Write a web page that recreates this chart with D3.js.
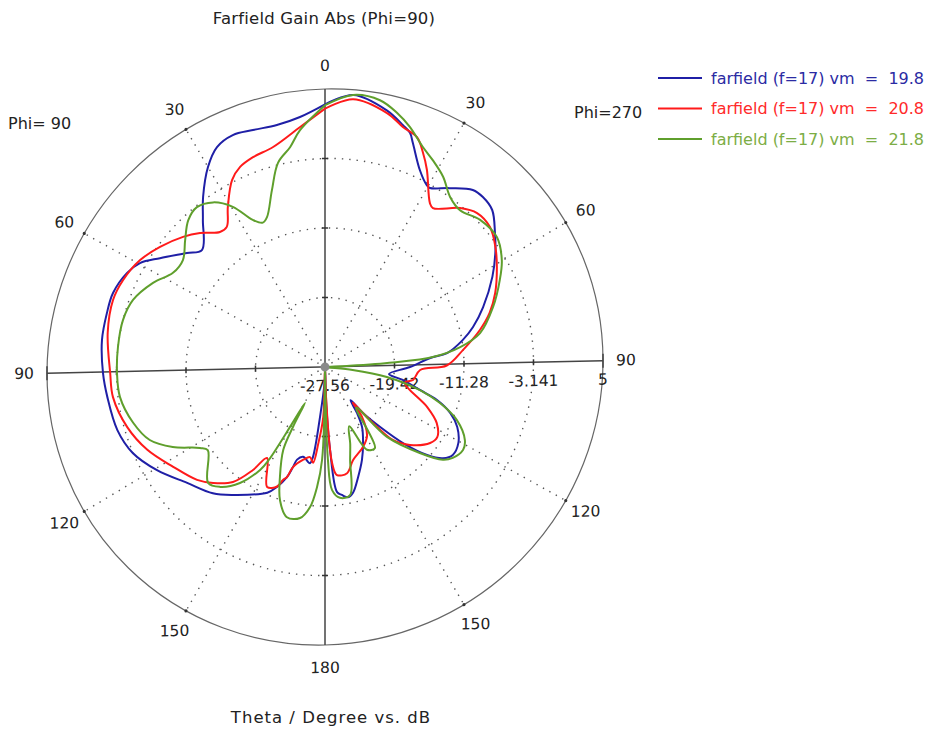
<!DOCTYPE html>
<html>
<head>
<meta charset="utf-8">
<script src="https://cdn.jsdelivr.net/npm/d3@7"></script>
<style>
  html, body { margin: 0; padding: 0; background: #fff; }
  svg { display: block; font-family: "DejaVu Sans", Verdana, sans-serif; }
  text { white-space: pre; }
</style>
</head>
<body>
<svg id="chart" width="935" height="733"></svg>
<script>
// Radial scale: centre and outer ring values (dB)
const radialTicks = [-27.56, -19.42, -11.28, -3.141, 5];
const radialTickLabels = ["-27.56", "-19.42", "-11.28", "-3.141", "5"];

// Angle labels; display angle runs clockwise from top (right half Phi=270, left half Phi=90)
const angleTicks = [0, 30, 60, 90, 120, 150, 180, 210, 240, 270, 300, 330];
const angleLabels = ["0", "30", "60", "90", "120", "150", "180", "150", "120", "90", "60", "30"];

const seriesNames = ["farfield (f=17) vm  =  19.8", "farfield (f=17) vm  =  20.8", "farfield (f=17) vm  =  21.8"];
const seriesColors = ["#1f1fa6", "#ff1a1a", "#5f9f2c"];
const legendTextColors = ["#2b2ba3", "#ff2a2a", "#7cad45"];

// vm = 19.8
const blueAngle = [0, 6, 13.6, 18, 20.1, 21.6, 26, 29.6, 30.7, 35.3, 40.4, 43.5, 47.5, 52.6, 57.1, 62.7, 70.4, 76.1, 80.2, 84.8, 86.4, 91.3, 97.5, 100.7, 104.9, 107.6, 111.3, 115.5, 120.7, 125.4, 128.5, 131.5, 134.9, 138, 141, 143, 145.6, 148.7, 153.7, 158.5, 163.4, 167.5, 170, 172.5, 174.5, 176.5, 178, 180, 181, 185.7, 187.6, 188.9, 193.8, 196.9, 197.9, 199.2, 202, 204.9, 216.2, 222.2, 230.7, 239.4, 247, 254.3, 263.4, 269.7, 278.2, 285.1, 290.4, 296.5, 300.3, 304.3, 310.3, 314.2, 320.8, 324.8, 330, 334.1, 338.5, 343.2, 348.8, 354.3, 360];
const blueGain = [3.2, 4.4, 3.2, 2.0, 1.4, 0.4, -2.2, -3.4, -3.5, -2.3, -0.85, -0.7, -1.0, -2.5, -3.8, -5.5, -7.9, -9.7, -11.2, -13.2, -15.2, -17.6, -20.0, -18.3, -16.0, -13.8, -11.8, -10.4, -9.4, -9.2, -9.9, -11.6, -14.6, -17.9, -20.5, -22.6, -20.9, -19.2, -17.5, -15.75, -14.0, -12.4, -12.0, -12.4, -12.8, -17.8, -23, -28, -26, -21.7, -17.0, -16.2, -16.8, -16.3, -15.3, -14.0, -12.55, -11.5, -9.3, -8.0, -6.7, -4.7, -3.1, -2.3, -1.9, -1.56, -1.17, -1.1, -1.07, -1.66, -2.46, -4.16, -6.36, -7.45, -4.93, -2.79, -0.15, 1.4, 1.9, 1.63, 1.46, 1.93, 3.2];

// vm = 20.8
const redAngle = [0, 6, 13.8, 18.1, 22, 24.8, 27.6, 33, 34.6, 40.9, 45.3, 50.4, 55.7, 60.8, 67.6, 73, 77.8, 84.2, 90.6, 93.1, 99.7, 102.5, 112.5, 117.6, 122.9, 126.7, 133.2, 137.6, 139.6, 141, 142.6, 143.9, 149, 154.8, 163.3, 168.3, 173.7, 175.8, 178, 180, 182, 185, 187.1, 189.5, 193, 197.9, 199.2, 200.6, 202, 206, 212.9, 215.4, 219.2, 224.6, 229.3, 237.6, 246.1, 254.3, 263.2, 269.7, 280.2, 288.7, 294.4, 301, 306.9, 313.2, 317.6, 322.6, 325.4, 329.1, 333.8, 337.2, 341.2, 346.8, 354.1, 360];
const redGain = [2.7, 3.9, 2.9, 1.8, 1.2, -0.2, -1.8, -5.0, -5.3, -3.4, -2.5, -2.5, -3.4, -4.5, -6.0, -7.4, -9.0, -11.3, -13.3, -16.4, -17.1, -18.0, -14.6, -12.8, -11.9, -12.2, -13.9, -15.7, -18.2, -20.5, -22.2, -20.2, -18.0, -17.1, -16.1, -14.8, -14.8, -16.3, -24, -28, -21.7, -18.6, -16.3, -16.9, -16.5, -15.3, -14.0, -13.55, -12.6, -12.1, -15.05, -13.0, -10.5, -8.9, -7.8, -6.5, -4.8, -3.5, -2.55, -2.4, -1.7, -1.35, -1.6, -2.3, -3.4, -4.75, -5.85, -7.3, -7.3, -5.4, -2.9, -1.9, -1.4, -0.95, 0.77, 2.7];

// vm = 21.8
const greenAngle = [0, 5.9, 11.7, 15.9, 19.6, 24.2, 27.8, 32.2, 36.8, 41.3, 47.2, 53.8, 59.8, 64.6, 71.5, 78.9, 82.9, 86, 87.5, 88.5, 90, 97.3, 100.4, 104.9, 108.6, 113, 118.6, 122, 126.3, 129, 132.9, 139, 143, 148.7, 153.4, 158, 162, 165, 169, 173.5, 176.7, 178.2, 179.7, 180.3, 181.8, 183.8, 186.1, 189.4, 194.3, 198.8, 202.4, 207, 208.4, 209.4, 210.5, 211.5, 212.6, 216.7, 221.8, 225.9, 235.5, 238, 243.3, 248.5, 255, 263, 269.6, 276.8, 284.3, 290.4, 297.1, 302.7, 307.8, 312.9, 317.6, 321.8, 326.2, 330.4, 334.1, 336.9, 339, 343.4, 347.1, 351, 354, 360];
const greenGain = [3.1, 4.4, 4.2, 3.2, 2.05, 0.4, -0.5, -1.6, -3.1, -3.6, -2.8, -2.6, -3.6, -4.9, -6.8, -9.05, -11.6, -14.9, -19.6, -25, -30, -24.3, -20.2, -16.05, -13.35, -10.8, -8.9, -8.5, -9.0, -9.8, -12.4, -16.5, -21.5, -16.3, -16.6, -20, -18, -16.2, -12.2, -12.1, -13.1, -16.7, -30, -30, -16.7, -13.5, -11.1, -9.7, -9.5, -11.2, -13.7, -16.8, -19.7, -22.8, -20, -15, -13.45, -10.9, -9.1, -8.5, -10.9, -10.3, -7.6, -5.5, -4.3, -3.36, -3.2, -3.14, -3.14, -3.57, -4.93, -6.4, -6.5, -5.2, -3.8, -3.3, -4.0, -5.7, -8.2, -9.0, -8.6, -5.8, -2.9, -1.4, 0.4, 3.1];

const seriesAngles = [blueAngle, redAngle, greenAngle];
const seriesGains = [blueGain, redGain, greenGain];

const svg = d3.select("#chart");
svg.append("rect").attr("width", 935).attr("height", 733).attr("fill", "#fff");

const cx = 325, cy = 367, R = 278;
const r = d3.scaleLinear().domain([radialTicks[0], radialTicks[radialTicks.length - 1]]).range([0, R]).clamp(true);
const toRad = d => d * Math.PI / 180;

// polar frame, slightly sheared like the exported plot
const g = svg.append("g").attr("transform", `translate(${cx},${cy}) skewY(-1.3)`);

// dotted inner rings
g.selectAll("circle.ring").data(radialTicks.slice(1, -1)).join("circle")
  .attr("class", "ring").attr("r", d => r(d))
  .attr("fill", "none").attr("stroke", "#555").attr("stroke-width", 1.4)
  .attr("stroke-dasharray", "1.4 6");

// dotted spokes
g.selectAll("line.spoke").data(angleTicks.filter(a => a % 90 !== 0)).join("line")
  .attr("class", "spoke")
  .attr("x1", 0).attr("y1", 0)
  .attr("x2", a => R * Math.sin(toRad(a))).attr("y2", a => -R * Math.cos(toRad(a)))
  .attr("stroke", "#555").attr("stroke-width", 1.4).attr("stroke-dasharray", "1.4 6");

// outer ring
g.append("circle").attr("r", R).attr("fill", "none").attr("stroke", "#666").attr("stroke-width", 1.2);

// main axes
g.append("line").attr("x1", -R).attr("x2", R).attr("y1", 0).attr("y2", 0).attr("stroke", "#444").attr("stroke-width", 1.5);
g.append("line").attr("x1", 0).attr("x2", 0).attr("y1", -R).attr("y2", R).attr("stroke", "#444").attr("stroke-width", 1.5);

// end bars on the horizontal axis
[-R, R].forEach(x => g.append("line").attr("x1", x).attr("x2", x).attr("y1", -7).attr("y2", 7).attr("stroke", "#444").attr("stroke-width", 1.5));

// small ticks where rings cross the axes
radialTicks.slice(1, -1).forEach(v => {
  const rr = r(v);
  [rr, -rr].forEach(x => g.append("line").attr("x1", x).attr("x2", x).attr("y1", -3).attr("y2", 3).attr("stroke", "#333").attr("stroke-width", 1.5));
  [rr, -rr].forEach(y => g.append("line").attr("x1", -3).attr("x2", 3).attr("y1", y).attr("y2", y).attr("stroke", "#333").attr("stroke-width", 1.5));
});
// ticks on the outer ring at spokes
g.selectAll("circle.otick").data(angleTicks.filter(a => a % 90 !== 0)).join("circle")
  .attr("class", "otick").attr("r", 1.6)
  .attr("cx", a => R * Math.sin(toRad(a))).attr("cy", a => -R * Math.cos(toRad(a)))
  .attr("fill", "#333");

// angle labels
g.selectAll("text.ang").data(angleTicks).join("text")
  .attr("class", "ang")
  .attr("x", (a) => (R + 23) * Math.sin(toRad(a)))
  .attr("y", (a) => -(R + 23) * Math.cos(toRad(a)))
  .attr("text-anchor", "middle").attr("dominant-baseline", "central")
  .attr("font-size", 15.5).attr("fill", "#222")
  .text((a, i) => angleLabels[i]);

// radial labels
g.selectAll("text.rad").data(radialTicks).join("text")
  .attr("class", "rad")
  .attr("x", d => r(d)).attr("y", 24)
  .attr("text-anchor", "middle")
  .attr("font-size", 15.5).attr("fill", "#222")
  .text((d, i) => radialTickLabels[i]);

// curves
const line = d3.lineRadial()
  .angle(d => toRad(d[0]))
  .radius(d => r(d[1]))
  .curve(d3.curveCatmullRom.alpha(0.5));

seriesAngles.forEach((angles, i) => {
  const pts = angles.map((a, k) => [a, seriesGains[i][k]]);
  g.append("path").datum(pts)
    .attr("d", line)
    .attr("fill", "none")
    .attr("stroke", seriesColors[i])
    .attr("stroke-width", 2)
    .attr("stroke-linejoin", "round");
});

// centre marker
g.append("circle").attr("r", 4.5).attr("fill", "#8a8a8a");

// titles
svg.append("text").attr("x", 324).attr("y", 24).attr("text-anchor", "middle")
  .attr("font-size", 16.5).attr("letter-spacing", 0.2).attr("fill", "#222").text("Farfield Gain Abs (Phi=90)");
svg.append("text").attr("x", 331).attr("y", 723).attr("text-anchor", "middle")
  .attr("font-size", 16.5).attr("letter-spacing", 1).attr("fill", "#222").text("Theta / Degree vs. dB");
svg.append("text").attr("x", 8).attr("y", 129).attr("font-size", 16).attr("fill", "#222").text("Phi= 90");
svg.append("text").attr("x", 574).attr("y", 118).attr("font-size", 16).attr("fill", "#222").text("Phi=270");

// legend
const legend = svg.append("g");
seriesNames.forEach((name, i) => {
  const y = 78 + i * 30.5;
  legend.append("line").attr("x1", 658).attr("x2", 702).attr("y1", y).attr("y2", y)
    .attr("stroke", seriesColors[i]).attr("stroke-width", 2);
  legend.append("text").attr("x", 711).attr("y", y + 5.5).attr("font-size", 16)
    .attr("fill", legendTextColors[i]).text(name);
});
</script>
</body>
</html>
